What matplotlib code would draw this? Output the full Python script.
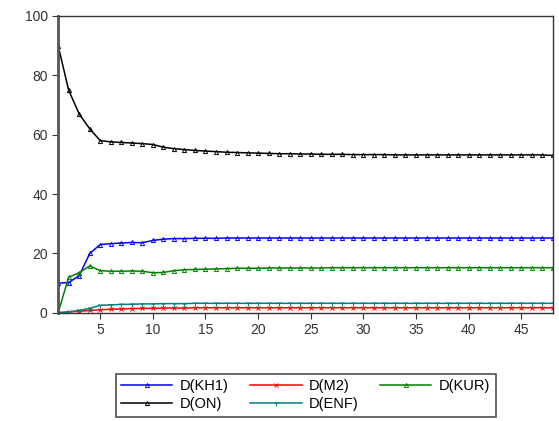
import matplotlib
matplotlib.use("Agg")
import matplotlib.pyplot as plt

plt.rcParams['font.family'] = ['Liberation Sans', 'DejaVu Sans']

periods = list(range(1, 49))

d_on = [90, 75, 67, 62, 58, 57.6, 57.4, 57.2, 57.0, 56.7, 55.8, 55.3, 55.0, 54.7, 54.5,
        54.3, 54.1, 54.0, 53.9, 53.8, 53.7, 53.6, 53.6, 53.5, 53.5, 53.4, 53.4, 53.4,
        53.3, 53.3, 53.3, 53.3, 53.2, 53.2, 53.2, 53.2, 53.2, 53.2, 53.2, 53.2, 53.2,
        53.2, 53.2, 53.2, 53.2, 53.2, 53.2, 53.0]
d_kh1 = [10, 10.2, 12.5, 20, 23, 23.3, 23.5, 23.7, 23.6, 24.4, 24.8, 25.0, 25.0, 25.1,
         25.1, 25.1, 25.2, 25.2, 25.2, 25.2, 25.2, 25.2, 25.2, 25.2, 25.2, 25.2, 25.2,
         25.2, 25.2, 25.2, 25.2, 25.2, 25.2, 25.2, 25.2, 25.2, 25.2, 25.2, 25.2, 25.2,
         25.2, 25.2, 25.2, 25.2, 25.2, 25.2, 25.2, 25.2]
d_m2 = [0, 0.3, 0.5, 0.8, 1.0, 1.2, 1.3, 1.4, 1.5, 1.5, 1.6, 1.6, 1.6, 1.7, 1.7, 1.7,
        1.7, 1.7, 1.7, 1.7, 1.7, 1.7, 1.7, 1.7, 1.7, 1.7, 1.7, 1.7, 1.7, 1.7, 1.7, 1.7,
        1.7, 1.7, 1.7, 1.7, 1.7, 1.7, 1.7, 1.7, 1.7, 1.7, 1.7, 1.7, 1.7, 1.7, 1.7, 1.7]
d_kur = [0, 12, 13.5, 15.8, 14.2, 14.0, 14.0, 14.1, 14.0, 13.5, 13.6, 14.2, 14.5, 14.6,
         14.7, 14.8, 14.9, 15.0, 15.0, 15.0, 15.1, 15.1, 15.1, 15.1, 15.1, 15.1, 15.2,
         15.2, 15.2, 15.2, 15.2, 15.2, 15.2, 15.2, 15.2, 15.2, 15.2, 15.2, 15.2, 15.2,
         15.2, 15.2, 15.2, 15.2, 15.2, 15.2, 15.2, 15.2]
d_enf = [0, 0.3, 0.8, 1.5, 2.5, 2.7, 2.8, 2.9, 3.0, 3.0, 3.1, 3.1, 3.1, 3.2, 3.2, 3.2,
         3.2, 3.2, 3.2, 3.2, 3.2, 3.2, 3.2, 3.2, 3.2, 3.2, 3.2, 3.2, 3.2, 3.2, 3.2, 3.2,
         3.2, 3.2, 3.2, 3.2, 3.2, 3.2, 3.2, 3.2, 3.2, 3.2, 3.2, 3.2, 3.2, 3.2, 3.2, 3.2]

fig = plt.figure(figsize=(5.59, 4.21), dpi=100)
ax = fig.add_axes([0.104, 0.257, 0.885, 0.705])

h_kh1, = ax.plot(periods, d_kh1, color="#0000ff", lw=1.1, marker="^", ms=3, mfc="none", mew=0.7, label="D(KH1)")
h_m2, = ax.plot(periods, d_m2, color="#ff0000", lw=1.1, marker="x", ms=3, mew=0.7, label="D(M2)")
h_kur, = ax.plot(periods, d_kur, color="#008000", lw=1.1, marker="^", ms=3, mfc="none", mew=0.7, label="D(KUR)")
h_on, = ax.plot(periods, d_on, color="#000000", lw=1.1, marker="^", ms=3, mfc="none", mew=0.7, label="D(ON)")
h_enf, = ax.plot(periods, d_enf, color="#008080", lw=1.1, marker="1", ms=4, mew=0.7, label="D(ENF)")

ax.set_xlim(1, 48)
ax.set_ylim(0, 100)
ax.set_xticks(range(5, 46, 5))
ax.set_yticks(range(0, 101, 20))
ax.tick_params(direction="out", length=4, labelsize=10, colors="#333333")
for s in ax.spines.values():
    s.set_linewidth(1.0)
    s.set_color("#333333")
ax.spines['left'].set_linewidth(2.0)
ax.spines['left'].set_color("#555555")

# column-major fill so rows read KH1, M2, KUR / ON, ENF
handles = [h_kh1, h_on, h_m2, h_enf, h_kur]
leg = fig.legend(handles=handles, labels=[h.get_label() for h in handles],
                 loc="upper center", bbox_to_anchor=(0.547, 0.13), ncol=3,
                 fontsize=10.5, frameon=True, fancybox=False, edgecolor="#222222",
                 handlelength=3.5, handletextpad=0.5, columnspacing=1.5,
                 borderpad=0.4, labelspacing=0.25)
leg.get_frame().set_linewidth(1.2)

fig.savefig("out.png", dpi=100)
